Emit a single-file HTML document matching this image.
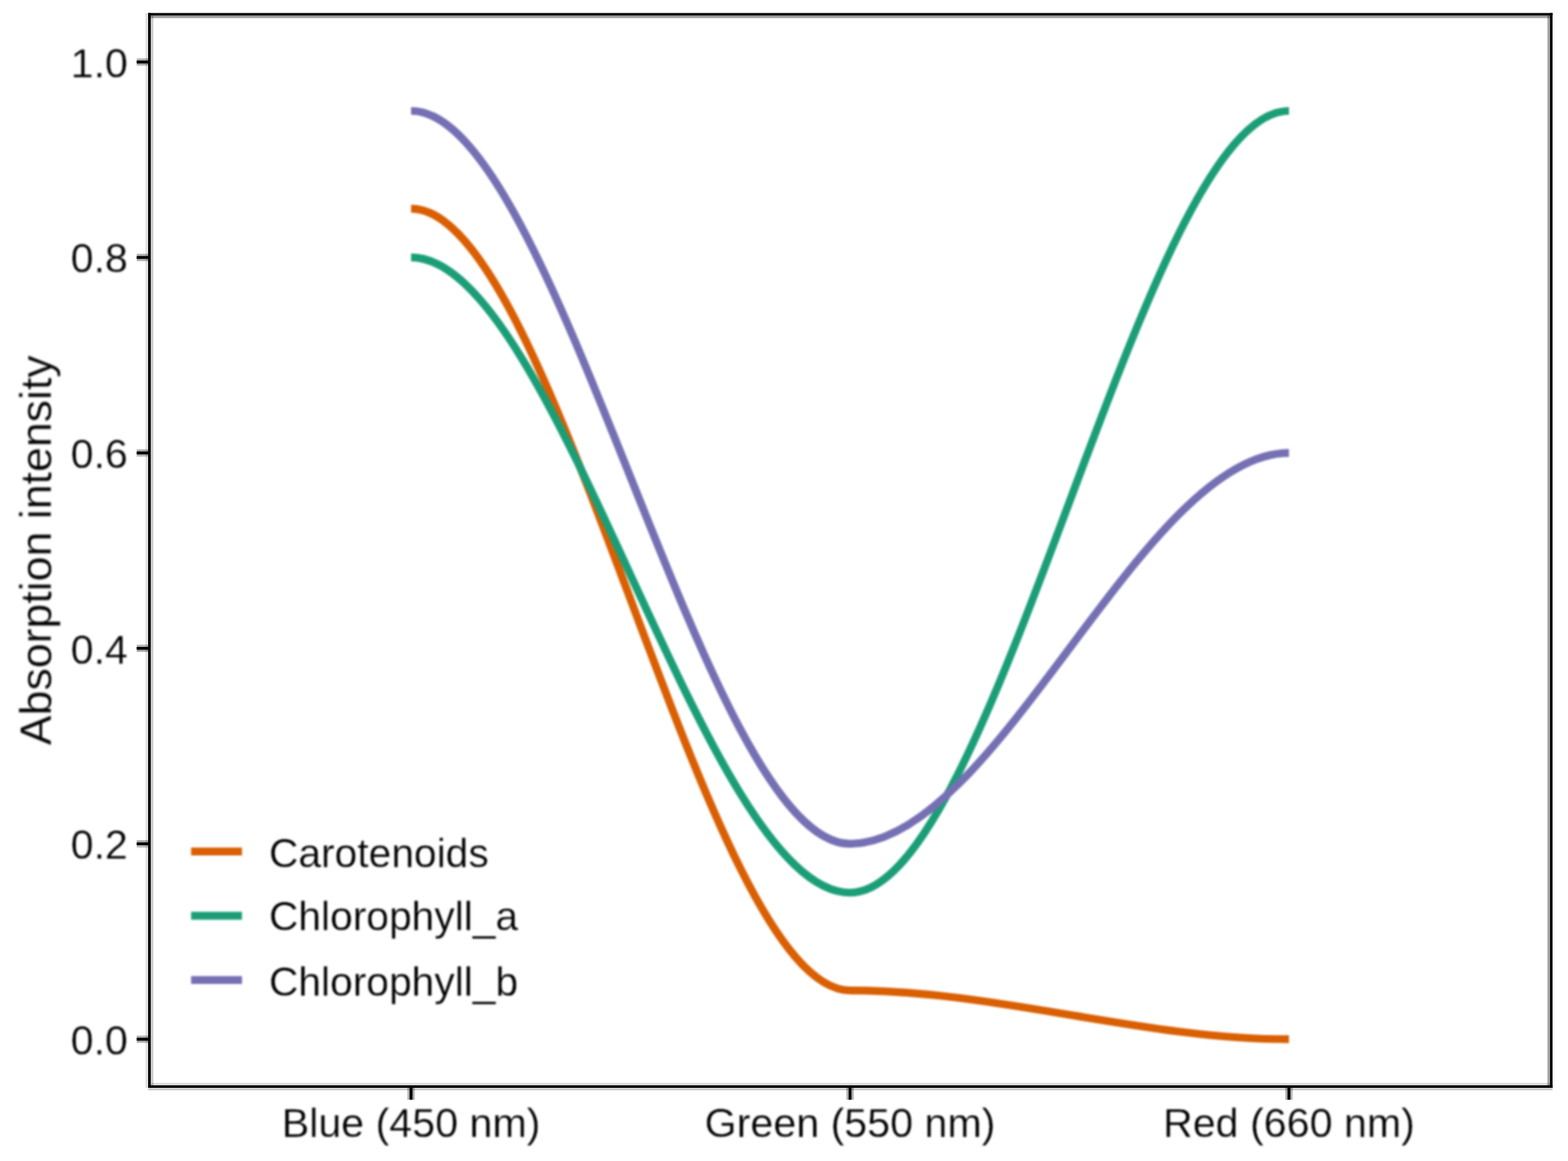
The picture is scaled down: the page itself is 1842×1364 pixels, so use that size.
<!DOCTYPE html>
<html lang="en">
<head>
<meta charset="utf-8">
<title>Absorption intensity</title>
<style>
html,body{margin:0;padding:0;background:#fff;}
body{width:1842px;height:1364px;overflow:hidden;}
svg{display:block;}
text{font-family:"Liberation Sans",sans-serif;fill:#000;stroke:#fff;stroke-width:0.3px;}
.tk{font-size:48.4px;}
.lg{font-size:47.9px;}
.ti{font-size:52.5px;}
.series{fill:none;stroke-width:9.2px;}
.core{fill:#000;}
.halo{fill:#000;}
.tick{stroke:#000;stroke-width:3.4px;}
.tickhalo{stroke:#000;stroke-opacity:0.3;stroke-width:8.6px;}
</style>
</head>
<body>
<svg width="1842" height="1364" viewBox="0 0 1842 1364">
<defs>
<filter id="soft" color-interpolation-filters="sRGB" filterUnits="userSpaceOnUse" x="0" y="0" width="1842" height="1364"><feGaussianBlur stdDeviation="1.2"/></filter>
<filter id="softtext" color-interpolation-filters="sRGB" filterUnits="userSpaceOnUse" x="0" y="0" width="1842" height="1364"><feGaussianBlur stdDeviation="0.8"/></filter>
</defs>
<rect width="1842" height="1364" fill="#fff"/>
<!-- curves and legend keys -->
<g filter="url(#soft)">
<path class="series" d="M482.90,245.06 C654.80,245.06 826.70,1163.55 998.60,1163.55 C1170.47,1163.55 1342.33,1220.95 1514.20,1220.95" stroke="#D95F02"/>
<path class="series" d="M482.90,302.47 C654.80,302.47 826.70,1048.74 998.60,1048.74 C1170.47,1048.74 1342.33,130.25 1514.20,130.25" stroke="#1B9E77"/>
<path class="series" d="M482.90,130.25 C654.80,130.25 826.70,991.33 998.60,991.33 C1170.47,991.33 1342.33,532.09 1514.20,532.09" stroke="#7570B3"/>
<line class="series" x1="224.5" y1="1000.3" x2="284.3" y2="1000.3" stroke="#D95F02"/>
<line class="series" x1="224.5" y1="1075.8" x2="284.3" y2="1075.8" stroke="#1B9E77"/>
<line class="series" x1="224.5" y1="1151.3" x2="284.3" y2="1151.3" stroke="#7570B3"/>
</g>
<!-- panel border -->
<g>
<rect class="halo" x="170.9" y="15.3" width="3.1" height="1262.7" fill-opacity="0.12"/>
<rect class="halo" x="177.1" y="18.3" width="3.1" height="1256.8" fill-opacity="0.20"/>
<rect class="halo" x="177.1" y="18.3" width="1643.7" height="3.0" fill-opacity="0.37"/>
<rect class="halo" x="1817.8" y="18.3" width="3.0" height="1256.8" fill-opacity="0.35"/>
<rect class="halo" x="177.1" y="1272.3" width="1643.7" height="2.8" fill-opacity="0.15"/>
<rect class="halo" x="174.0" y="1278.0" width="1649.8" height="3.0" fill-opacity="0.20"/>
<rect class="core" x="174.0" y="15.3" width="3.1" height="1262.7"/>
<rect class="core" x="1820.8" y="15.3" width="3.0" height="1262.7"/>
<rect class="core" x="174.0" y="15.3" width="1649.8" height="3.0"/>
<rect class="core" x="174.0" y="1275.1" width="1649.8" height="2.9"/>
</g>
<!-- axis ticks -->
<g>
<line class="tickhalo" x1="160.6" y1="72.85" x2="174" y2="72.85"/>
<line class="tick" x1="160.6" y1="72.85" x2="174" y2="72.85"/>
<line class="tickhalo" x1="160.6" y1="302.47" x2="174" y2="302.47"/>
<line class="tick" x1="160.6" y1="302.47" x2="174" y2="302.47"/>
<line class="tickhalo" x1="160.6" y1="532.09" x2="174" y2="532.09"/>
<line class="tick" x1="160.6" y1="532.09" x2="174" y2="532.09"/>
<line class="tickhalo" x1="160.6" y1="761.71" x2="174" y2="761.71"/>
<line class="tick" x1="160.6" y1="761.71" x2="174" y2="761.71"/>
<line class="tickhalo" x1="160.6" y1="991.33" x2="174" y2="991.33"/>
<line class="tick" x1="160.6" y1="991.33" x2="174" y2="991.33"/>
<line class="tickhalo" x1="160.6" y1="1220.95" x2="174" y2="1220.95"/>
<line class="tick" x1="160.6" y1="1220.95" x2="174" y2="1220.95"/>
<line class="tickhalo" x1="482.9" y1="1278" x2="482.9" y2="1292"/>
<line class="tick" x1="482.9" y1="1278" x2="482.9" y2="1292"/>
<line class="tickhalo" x1="998.6" y1="1278" x2="998.6" y2="1292"/>
<line class="tick" x1="998.6" y1="1278" x2="998.6" y2="1292"/>
<line class="tickhalo" x1="1514.2" y1="1278" x2="1514.2" y2="1292"/>
<line class="tick" x1="1514.2" y1="1278" x2="1514.2" y2="1292"/>
</g>
<!-- text -->
<g filter="url(#softtext)">
<text class="tk" x="150.3" y="90.75" text-anchor="end">1.0</text>
<text class="tk" x="150.3" y="320.37" text-anchor="end">0.8</text>
<text class="tk" x="150.3" y="549.99" text-anchor="end">0.6</text>
<text class="tk" x="150.3" y="779.61" text-anchor="end">0.4</text>
<text class="tk" x="150.3" y="1009.23" text-anchor="end">0.2</text>
<text class="tk" x="150.3" y="1238.85" text-anchor="end">0.0</text>
<text class="tk" x="482.9" y="1336.2" text-anchor="middle">Blue (450 nm)</text>
<text class="tk" x="998.6" y="1336.2" text-anchor="middle">Green (550 nm)</text>
<text class="tk" x="1514.2" y="1336.2" text-anchor="middle">Red (660 nm)</text>
<text class="ti" transform="translate(60,646.5) rotate(-90)" text-anchor="middle">Absorption intensity</text>
<text class="lg" x="315.9" y="1019.1">Carotenoids</text>
<text class="lg" x="315.9" y="1093.1">Chlorophyll_a</text>
<text class="lg" x="315.9" y="1169.5">Chlorophyll_b</text>
</g>
</svg>
</body>
</html>
